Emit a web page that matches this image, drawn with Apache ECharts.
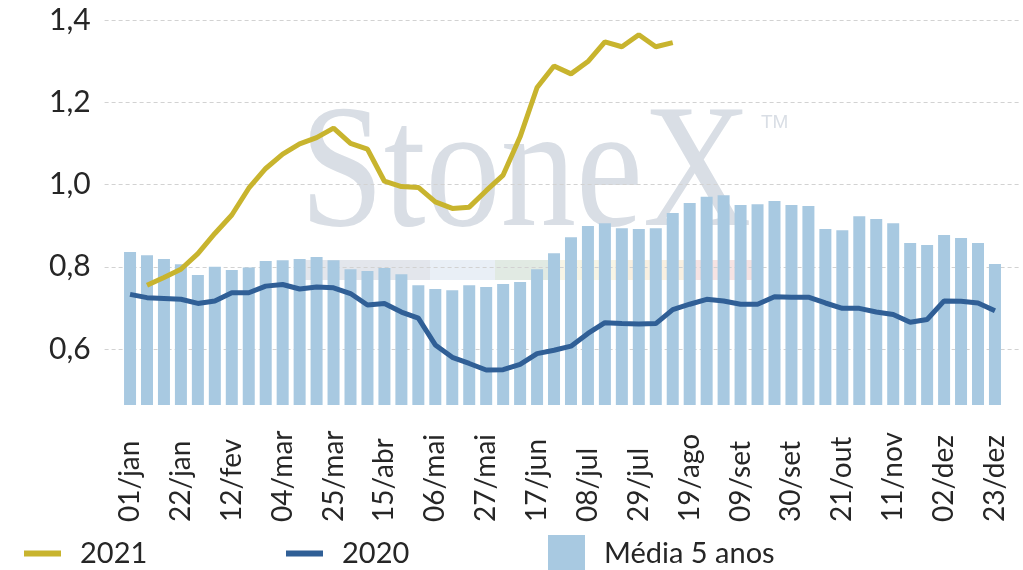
<!DOCTYPE html>
<html>
<head>
<meta charset="utf-8">
<script src="https://cdn.jsdelivr.net/npm/echarts@6/dist/echarts.min.js"></script>
<style>
  html, body { margin: 0; padding: 0; background: #ffffff; }
  #chart { width: 1023px; height: 570px; }
</style>
</head>
<body>
<div id="chart"></div>
<script>
// Weekly dates (one per week of the year)
const weeks = [
  '01/jan','08/jan','15/jan','22/jan','29/jan','05/fev','12/fev','19/fev','26/fev',
  '04/mar','11/mar','18/mar','25/mar','01/abr','08/abr','15/abr','22/abr','29/abr',
  '06/mai','13/mai','20/mai','27/mai','03/jun','10/jun','17/jun','24/jun',
  '01/jul','08/jul','15/jul','22/jul','29/jul','05/ago','12/ago','19/ago','26/ago',
  '02/set','09/set','16/set','23/set','30/set','07/out','14/out','21/out','28/out',
  '04/nov','11/nov','18/nov','25/nov','02/dez','09/dez','16/dez','23/dez'
];

// Five-year average (bars)
const media5 = [
  0.836, 0.828, 0.819, 0.806, 0.780, 0.800, 0.792, 0.798, 0.814, 0.816,
  0.819, 0.824, 0.816, 0.794, 0.790, 0.797, 0.782, 0.755, 0.746, 0.743,
  0.755, 0.751, 0.758, 0.763, 0.794, 0.833, 0.872, 0.899, 0.906, 0.894,
  0.892, 0.894, 0.931, 0.955, 0.970, 0.974, 0.950, 0.952, 0.960, 0.950,
  0.948, 0.892, 0.889, 0.923, 0.916, 0.906, 0.858, 0.853, 0.877, 0.870,
  0.858, 0.807
];

// 2020 weekly values
const y2020 = [
  0.733, 0.725, 0.723, 0.721, 0.711, 0.717, 0.737, 0.737, 0.753, 0.757,
  0.746, 0.751, 0.749, 0.735, 0.707, 0.711, 0.690, 0.675, 0.610, 0.580,
  0.565, 0.549, 0.550, 0.563, 0.589, 0.597, 0.607, 0.638, 0.664, 0.662,
  0.661, 0.662, 0.696, 0.709, 0.721, 0.717, 0.709, 0.709, 0.727, 0.726,
  0.726, 0.712, 0.699, 0.699, 0.690, 0.684, 0.665, 0.672, 0.717, 0.716,
  0.712, 0.693
];

// 2021 weekly values (year to date)
const y2021 = [
  null, 0.755, 0.774, 0.794, 0.832, 0.881, 0.926, 0.991, 1.039, 1.074,
  1.099, 1.114, 1.137, 1.100, 1.086, 1.008, 0.995, 0.993, 0.958, 0.942,
  0.945, 0.985, 1.023, 1.116, 1.236, 1.288, 1.269, 1.299, 1.347, 1.335,
  1.364, 1.335, 1.345
];

// Value axis ticks
const yTicks = [0.6, 0.8, 1.0, 1.2, 1.4];

const FONT = 'Lato';
const TEXT = '#262626';

// One empty slot on each side of the weeks leaves room at the plot edges
const axisData = [''].concat(weeks, ['']);
const pad = arr => [null].concat(arr, new Array(weeks.length - arr.length + 1).fill(null));

const chart = echarts.init(document.getElementById('chart'), null, { renderer: 'canvas' });

chart.setOption({
  animation: false,
  backgroundColor: '#ffffff',
  grid: { left: 104.6, right: 2.6, top: 20, bottom: 165, containLabel: false },
  graphic: [
    // StoneX watermark behind the plot
    { type: 'text', x: 300, y: 267, z: -10, scaleX: 0.86, silent: true,
      style: { text: 'StoneX', font: '175px "Liberation Serif"', fill: '#d9dee5',
               align: 'left', verticalAlign: 'bottom' } },
    { type: 'text', x: 761, y: 113, z: -10, silent: true,
      style: { text: 'TM', font: '19px "Liberation Sans"', fill: '#d9dee5' } },
    { type: 'rect', z: -10, silent: true, shape: { x: 305, y: 260, width: 125, height: 20 }, style: { fill: '#e3e6ec' } },
    { type: 'rect', z: -10, silent: true, shape: { x: 430, y: 260, width: 65, height: 20 }, style: { fill: '#e9eff6' } },
    { type: 'rect', z: -10, silent: true, shape: { x: 495, y: 260, width: 55, height: 20 }, style: { fill: '#e1eae3' } },
    { type: 'rect', z: -10, silent: true, shape: { x: 550, y: 260, width: 65, height: 20 }, style: { fill: '#f7f5e6' } },
    { type: 'rect', z: -10, silent: true, shape: { x: 615, y: 260, width: 75, height: 20 }, style: { fill: '#f9f0e1' } },
    { type: 'rect', z: -10, silent: true, shape: { x: 690, y: 260, width: 62, height: 20 }, style: { fill: '#f6e3e3' } }
  ],
  legend: [
    { data: [{ name: '2021', icon: 'rect' }], left: 24, top: 538.5, padding: 0,
      itemWidth: 37, itemHeight: 6,
      textStyle: { fontFamily: FONT, fontSize: 29, color: TEXT, lineHeight: 30, padding: [0, 0, 0, 14] } },
    { data: [{ name: '2020', icon: 'rect' }], left: 286, top: 538.5, padding: 0,
      itemWidth: 37, itemHeight: 6,
      textStyle: { fontFamily: FONT, fontSize: 29, color: TEXT, lineHeight: 30, padding: [0, 0, 0, 14] } },
    { data: [{ name: 'Média 5 anos', icon: 'rect' }], left: 548, top: 535, padding: 0,
      itemWidth: 37, itemHeight: 37,
      textStyle: { fontFamily: FONT, fontSize: 29, color: TEXT, lineHeight: 30, padding: [0, 0, 0, 14] } }
  ],
  xAxis: {
    type: 'category',
    data: axisData,
    boundaryGap: true,
    axisLine: { show: false },
    axisTick: { show: false },
    splitLine: { show: false },
    axisLabel: {
      interval: (i) => i >= 1 && i <= weeks.length && (i - 1) % 3 === 0,
      rotate: 90,
      align: 'left',
      verticalAlign: 'middle',
      margin: 117,
      fontFamily: FONT,
      fontSize: 28,
      color: TEXT
    }
  },
  yAxis: {
    type: 'value',
    min: 0.464,
    max: 1.4,
    axisLine: { show: false },
    axisTick: { show: false, customValues: yTicks },
    axisLabel: {
      customValues: yTicks,
      margin: 14,
      fontFamily: FONT,
      fontSize: 30,
      color: TEXT,
      formatter: (v) => v.toFixed(1).replace('.', ',')
    },
    splitLine: { show: true, lineStyle: { color: '#d2d2d2', width: 1, type: [4, 3] } }
  },
  series: [
    {
      name: 'Média 5 anos',
      type: 'bar',
      data: pad(media5),
      barWidth: 12,
      itemStyle: { color: '#a8c9e1' },
      z: 2
    },
    {
      name: '2020',
      type: 'line',
      data: pad(y2020),
      showSymbol: false,
      symbol: 'none',
      lineStyle: { color: '#305f96', width: 5 },
      itemStyle: { color: '#305f96' },
      z: 3
    },
    {
      name: '2021',
      type: 'line',
      data: pad(y2021),
      showSymbol: false,
      symbol: 'none',
      connectNulls: false,
      lineStyle: { color: '#c8b42e', width: 5 },
      itemStyle: { color: '#c8b42e' },
      z: 4
    }
  ]
});
</script>
</body>
</html>
